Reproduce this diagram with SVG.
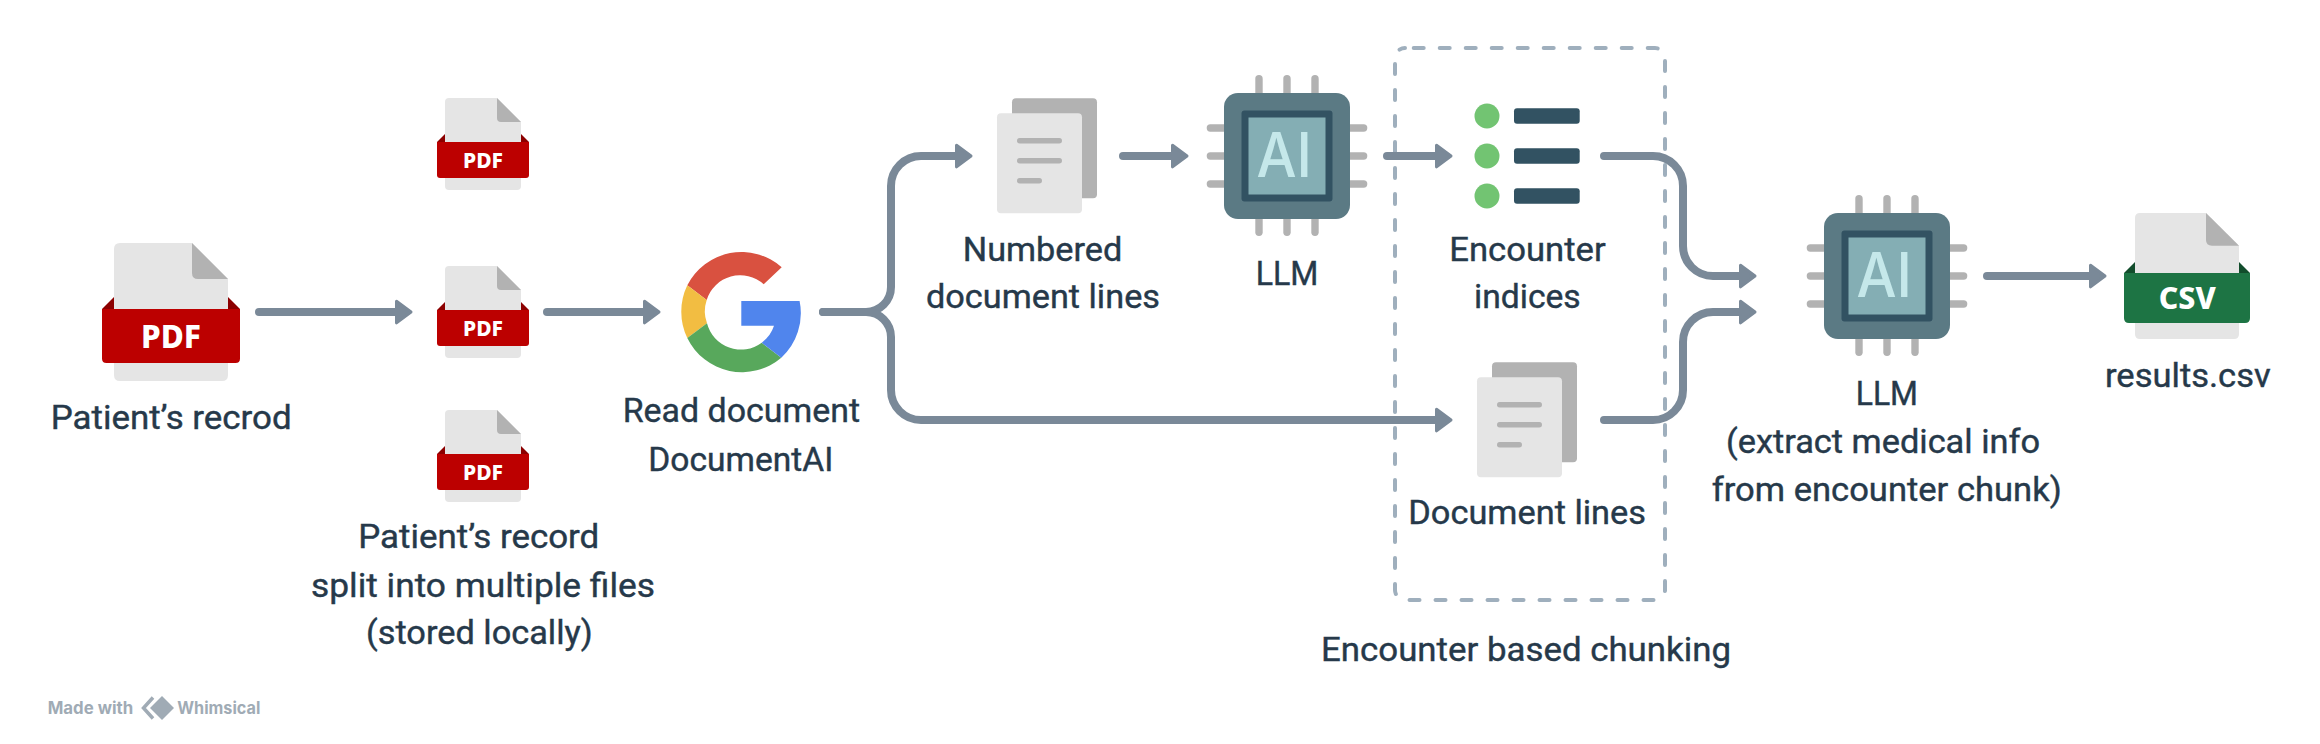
<svg xmlns="http://www.w3.org/2000/svg" xmlns:xlink="http://www.w3.org/1999/xlink" width="2320" height="744" viewBox="0 0 2320 744">
<style>
.lbl{font-family:"Roboto","Liberation Sans",sans-serif;font-weight:400;font-size:33px;fill:#26394a;stroke:#26394a;stroke-width:.4px}
.ic{font-family:"Noto Sans","Open Sans",sans-serif;font-weight:800;fill:#fff;text-anchor:middle}
.ai{font-family:"Inter","Open Sans",sans-serif;font-weight:500;font-size:62px;fill:#c5e8ea}
.wm{font-family:"Inter","Liberation Sans",sans-serif;font-weight:700;font-size:17px;fill:#a0abb5}
.conn{fill:none;stroke:#7a8998;stroke-width:8;stroke-linecap:round;marker-end:url(#head)}
.sheet{fill:#e5e5e5}.fold{fill:#b2b2b2}.red{fill:#bc0000}.dred{fill:#8c0000}.grn{fill:#1d7444}.dgrn{fill:#124d2c}
.pin{fill:#b2b2b2}
</style>
<defs>
<marker id="head" markerUnits="userSpaceOnUse" viewBox="0 -14 20 28" markerWidth="20" markerHeight="28" refX="0" refY="0" orient="auto">
<path d="M1.5 -10.8L16 0L1.5 10.8Z" fill="#7a8998" stroke="#7a8998" stroke-width="3" stroke-linejoin="round"/>
</marker>
<g id="pdf-s">
<path class="dred" d="M0 44L8 36H84L92 44V54H0Z"/>
<path class="sheet" d="M12 0H60L84 24V88Q84 92 80 92H12Q8 92 8 88V4Q8 0 12 0Z"/>
<path class="fold" d="M60 0L84 24H64Q60 24 60 20Z"/>
<path class="red" d="M0 44H92V77Q92 80 89 80H3Q0 80 0 77Z"/>
<text class="ic" x="46" y="70" font-size="21.5" textLength="40" lengthAdjust="spacingAndGlyphs">PDF</text>
</g>
<g id="docs">
<rect class="fold" x="15" y="-15" width="85" height="100" rx="4"/>
<rect class="sheet" x="0" y="0" width="85" height="100" rx="4"/>
<rect class="fold" x="20" y="24.7" width="45" height="5.4" rx="2.7"/>
<rect class="fold" x="20" y="44.7" width="45" height="5.4" rx="2.7"/>
<rect class="fold" x="20" y="64.7" width="25" height="5.4" rx="2.7"/>
</g>
<g id="chip">
<rect class="pin" x="-31.7" y="-81" width="7.4" height="30" rx="3.7"/>
<rect class="pin" x="-3.7" y="-81" width="7.4" height="30" rx="3.7"/>
<rect class="pin" x="24.3" y="-81" width="7.4" height="30" rx="3.7"/>
<rect class="pin" x="-31.7" y="50" width="7.4" height="30" rx="3.7"/>
<rect class="pin" x="-3.7" y="50" width="7.4" height="30" rx="3.7"/>
<rect class="pin" x="24.3" y="50" width="7.4" height="30" rx="3.7"/>
<rect class="pin" x="-80.3" y="-31.7" width="30" height="7.4" rx="3.7"/>
<rect class="pin" x="-80.3" y="-3.7" width="30" height="7.4" rx="3.7"/>
<rect class="pin" x="-80.3" y="24.3" width="30" height="7.4" rx="3.7"/>
<rect class="pin" x="50" y="-31.7" width="30.3" height="7.4" rx="3.7"/>
<rect class="pin" x="50" y="-3.7" width="30.3" height="7.4" rx="3.7"/>
<rect class="pin" x="50" y="24.3" width="30.3" height="7.4" rx="3.7"/>
<rect x="-63" y="-63" width="126" height="126" rx="14" fill="#5b7a84"/>
<rect x="-45.5" y="-45.5" width="91" height="91" rx="3" fill="#325262"/>
<rect x="-38.5" y="-38.5" width="77" height="77" fill="#84aeb4"/>
<text class="ai" x="-30.5" y="20.7" textLength="55.5" lengthAdjust="spacingAndGlyphs">AI</text>
</g>
</defs>
<rect width="2320" height="744" fill="#fff"/>

<g id="chunk-box">
<rect x="1395" y="48" width="270" height="552" rx="10" fill="none" stroke="#9fafbd" stroke-width="4" stroke-linecap="round" stroke-dasharray="10 16" stroke-dashoffset="17.3"/>
<text class="lbl" x="1321" y="661" textLength="410" lengthAdjust="spacingAndGlyphs">Encounter based chunking</text>
</g>

<g id="connectors">
<path class="conn" d="M259 312H395"/>
<path class="conn" d="M547 312H643"/>
<path class="conn" d="M823 312H866A25 25 0 0 0 891 287V186A30 30 0 0 1 921 156H955"/>
<path class="conn" d="M823 312H866A25 25 0 0 1 891 337V390A30 30 0 0 0 921 420H1435"/>
<path class="conn" d="M1123 156H1171"/>
<path class="conn" d="M1387 156H1435"/>
<path class="conn" d="M1604 156H1653A30 30 0 0 1 1683 186V246A30 30 0 0 0 1713 276H1739"/>
<path class="conn" d="M1604 420H1653A30 30 0 0 0 1683 390V342A30 30 0 0 1 1713 312H1739"/>
<path class="conn" d="M1987 276H2089"/>
</g>

<g id="patient-record">
<use xlink:href="#pdf-s" href="#pdf-s" transform="translate(102 243) scale(1.5)"/>
<text class="lbl" x="50.7" y="429" textLength="241" lengthAdjust="spacingAndGlyphs">Patient’s recrod</text>
</g>

<g id="pdf-1"><use xlink:href="#pdf-s" href="#pdf-s" x="437" y="98"/></g>
<g id="pdf-2"><use xlink:href="#pdf-s" href="#pdf-s" x="437" y="266"/></g>
<g id="pdf-3"><use xlink:href="#pdf-s" href="#pdf-s" x="437" y="410"/>
<text class="lbl" x="358.3" y="548.3" textLength="241" lengthAdjust="spacingAndGlyphs">Patient’s record</text>
<text class="lbl" x="311" y="596.7" textLength="344" lengthAdjust="spacingAndGlyphs">split into multiple files</text>
<text class="lbl" x="366" y="644.3" textLength="226.7" lengthAdjust="spacingAndGlyphs">(stored locally)</text>
</g>

<g id="documentai">
<path fill="#d95140" d="M687.3 285.3A60.7 60.7 0 0 1 781.7 267.3L763.7 284.3A35 35 0 0 0 706.7 300Z"/>
<path fill="#f2bd42" d="M687.3 285.3A60.7 60.7 0 0 0 687.3 338L707 323.3A35 35 0 0 1 706.7 300Z"/>
<path fill="#58a85c" d="M687.3 338A60.7 60.7 0 0 0 781.3 357.7L761.7 342.7A35 35 0 0 1 707 323.3Z"/>
<path fill="#5085ed" d="M741.3 301H799.6A60.7 60.7 0 0 1 781.3 357.7L761.7 342.7C768 338 772 332 774 325.7H741.3Z"/>
<text class="lbl" x="622.7" y="422" textLength="237.3" lengthAdjust="spacingAndGlyphs">Read document</text>
<text class="lbl" x="648.3" y="470.7" textLength="185" lengthAdjust="spacingAndGlyphs">DocumentAI</text>
</g>

<g id="numbered-lines"><use xlink:href="#docs" href="#docs" x="997" y="113.3"/>
<text class="lbl" x="962.7" y="261" textLength="159.6" lengthAdjust="spacingAndGlyphs">Numbered</text>
<text class="lbl" x="926" y="308.3" textLength="234" lengthAdjust="spacingAndGlyphs">document lines</text>
</g>

<g id="llm-1"><use xlink:href="#chip" href="#chip" x="1287" y="156"/>
<text class="lbl" x="1255.7" y="285" textLength="62.7" lengthAdjust="spacingAndGlyphs">LLM</text>
</g>

<g id="encounter-indices">
<circle cx="1487" cy="116" r="12.5" fill="#72c472"/><circle cx="1487" cy="156" r="12.5" fill="#72c472"/><circle cx="1487" cy="196" r="12.5" fill="#72c472"/>
<rect x="1514" y="108.3" width="65.7" height="15.4" rx="3" fill="#325262"/>
<rect x="1514" y="148.3" width="65.7" height="15.4" rx="3" fill="#325262"/>
<rect x="1514" y="188.3" width="65.7" height="15.4" rx="3" fill="#325262"/>
<text class="lbl" x="1449.3" y="260.7" textLength="156.4" lengthAdjust="spacingAndGlyphs">Encounter</text>
<text class="lbl" x="1474" y="308" textLength="106.7" lengthAdjust="spacingAndGlyphs">indices</text>
</g>

<g id="document-lines"><use xlink:href="#docs" href="#docs" x="1477" y="377.3"/>
<text class="lbl" x="1408.3" y="524" textLength="237.7" lengthAdjust="spacingAndGlyphs">Document lines</text>
</g>

<g id="llm-2"><use xlink:href="#chip" href="#chip" x="1887" y="276"/>
<text class="lbl" x="1855.7" y="405" textLength="62.3" lengthAdjust="spacingAndGlyphs">LLM</text>
<text class="lbl" x="1726" y="452.7" textLength="314" lengthAdjust="spacingAndGlyphs">(extract medical info</text>
<text class="lbl" x="1711.7" y="500.7" textLength="350" lengthAdjust="spacingAndGlyphs">from encounter chunk)</text>
</g>

<g id="results-csv">
<path class="dgrn" d="M2124 273L2135 262H2239L2250 273V290H2124Z"/>
<path class="sheet" d="M2140 213H2206L2239 245.7V334Q2239 339 2234 339H2140Q2135 339 2135 334V218Q2135 213 2140 213Z"/>
<path class="fold" d="M2206 213L2239 245.7H2212Q2206 245.7 2206 240Z"/>
<path class="grn" d="M2124 273H2250V318Q2250 323 2245 323H2129Q2124 323 2124 318Z"/>
<text class="ic" x="2187.3" y="309" font-size="30" textLength="57" lengthAdjust="spacingAndGlyphs">CSV</text>
<text class="lbl" x="2105" y="386.7" textLength="165.7" lengthAdjust="spacingAndGlyphs">results.csv</text>
</g>

<g id="watermark">
<text class="wm" x="47.7" y="713.5" textLength="85.5" lengthAdjust="spacingAndGlyphs">Made with</text>
<path d="M153 697.5L143.5 708L153 718.5" fill="none" stroke="#a0abb5" stroke-width="3.5"/>
<path d="M162 696L174 708L162 720L150 708Z" fill="#a0abb5"/>
<text class="wm" x="177.3" y="713.5" textLength="83" lengthAdjust="spacingAndGlyphs">Whimsical</text>
</g>
</svg>
